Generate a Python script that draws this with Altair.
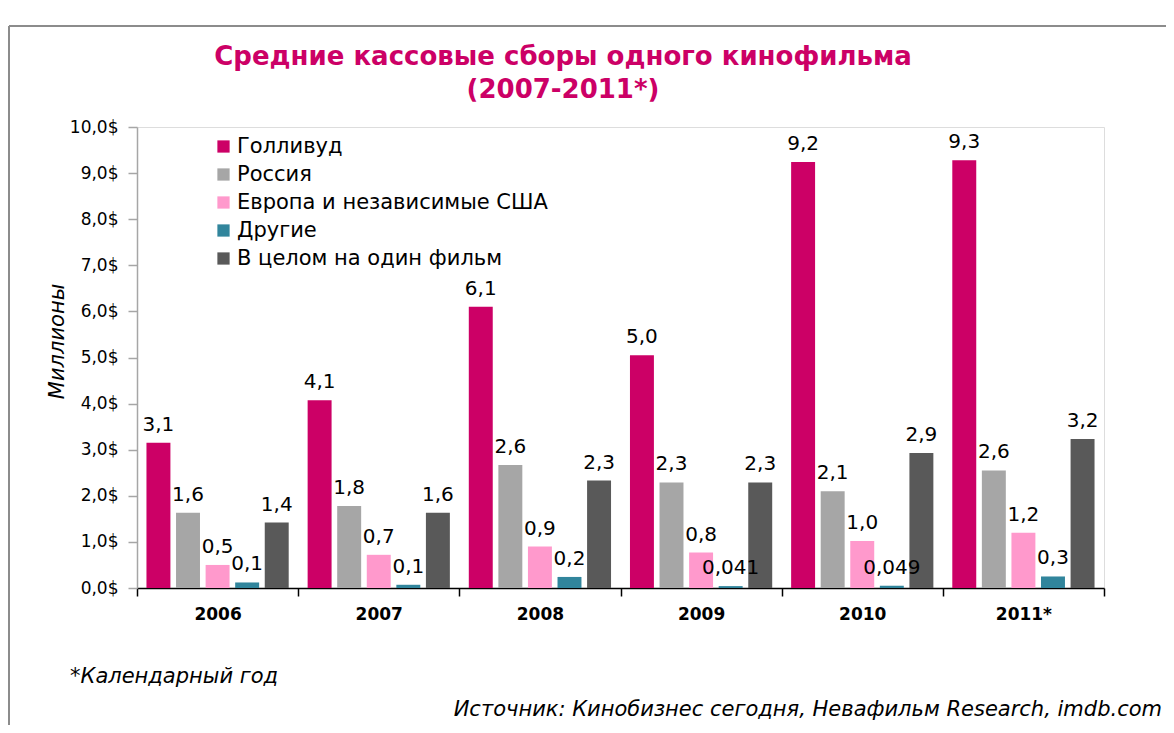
import altair as alt
import pandas as pd

years = ["2006", "2007", "2008", "2009", "2010", "2011*"]
series = ["Голливуд", "Россия", "Европа и независимые США", "Другие", "В целом на один фильм"]
colors = ["#CC0066", "#A6A6A6", "#FF99CC", "#31859C", "#595959"]

hollywood = [3.15, 4.07, 6.10, 5.05, 9.24, 9.28]
russia = [1.63, 1.78, 2.67, 2.29, 2.10, 2.55]
europe = [0.50, 0.72, 0.90, 0.77, 1.02, 1.20]
others = [0.12, 0.07, 0.24, 0.041, 0.049, 0.25]
total = [1.42, 1.63, 2.33, 2.29, 2.93, 3.23]

hollywood_lbl = ["3,1", "4,1", "6,1", "5,0", "9,2", "9,3"]
russia_lbl = ["1,6", "1,8", "2,6", "2,3", "2,1", "2,6"]
europe_lbl = ["0,5", "0,7", "0,9", "0,8", "1,0", "1,2"]
others_lbl = ["0,1", "0,1", "0,2", "0,041", "0,049", "0,3"]
total_lbl = ["1,4", "1,6", "2,3", "2,3", "2,9", "3,2"]

title_lines = ["Средние кассовые сборы одного кинофильма", "(2007-2011*)"]
footnote = "*Календарный год"
source = "Источник: Кинобизнес сегодня, Невафильм Research, imdb.com"

rows = []
for s, vals, lbls in zip(series,
                         [hollywood, russia, europe, others, total],
                         [hollywood_lbl, russia_lbl, europe_lbl, others_lbl, total_lbl]):
    for y, v, l in zip(years, vals, lbls):
        rows.append({"year": y, "series": s, "value": v, "label": l})
df = pd.DataFrame(rows)

FONT = "DejaVu Sans"

x = alt.X("year:N", sort=years, title=None,
          scale=alt.Scale(paddingInner=0, paddingOuter=0),
          axis=alt.Axis(labelAngle=0, labelFontWeight="bold", labelFontSize=17,
                        labelFont=FONT, labelColor="#000000", domainColor="#000000",
                        domainWidth=1.5, tickColor="#000000", tickSize=8, tickWidth=1.5,
                        tickBand="extent", labelPadding=10, grid=False))
xo = alt.XOffset("series:N", sort=series,
                 scale=alt.Scale(paddingInner=0.19, paddingOuter=0.32))

bars = alt.Chart(df).mark_bar().encode(
    x=x,
    xOffset=xo,
    y=alt.Y("value:Q", title="Миллионы",
            scale=alt.Scale(domain=[0, 10], nice=False),
            axis=alt.Axis(values=list(range(0, 11)), grid=False,
                          labelExpr="replace(format(datum.value, '.1f'), '.', ',') + '$'",
                          labelFont=FONT, labelFontSize=17, labelColor="#000000",
                          domainColor="#A6A6A6", domainWidth=1.5, tickColor="#A6A6A6",
                          tickSize=9, tickWidth=1.5,
                          labelPadding=10, titleFont=FONT, titleFontSize=21,
                          titleFontStyle="italic", titleFontWeight="normal",
                          titleColor="#000000", titlePadding=2, titleY=214)),
    color=alt.Color("series:N", sort=series,
                    scale=alt.Scale(domain=series, range=colors),
                    legend=alt.Legend(title=None, orient="none", legendX=76, legendY=9,
                                      symbolType="square", symbolSize=150,
                                      symbolStrokeWidth=0, labelFont=FONT,
                                      labelFontSize=21, labelColor="#000000",
                                      rowPadding=6, labelOffset=3, labelLimit=600)),
)

labels = alt.Chart(df).mark_text(baseline="bottom", dy=-8, font=FONT, fontSize=20,
                                 color="#000000").encode(
    x=alt.X("year:N", sort=years),
    xOffset=alt.XOffset("series:N", sort=series),
    y="value:Q",
    text="label:N",
)


def text_layer(t, x, y, align, size, style="normal", weight="normal", color="#000000"):
    return alt.Chart(pd.DataFrame({"t": [t]})).mark_text(
        align=align, baseline="middle", font=FONT, fontSize=size, fontStyle=style,
        fontWeight=weight, color=color).encode(x=alt.value(x), y=alt.value(y), text="t:N")


title1 = text_layer(title_lines[0], 426, -70, "center", 26, weight="bold", color="#CC0066")
title2 = text_layer(title_lines[1], 426, -37, "center", 26, weight="bold", color="#CC0066")
foot1 = text_layer(footnote, -67, 550, "left", 21, style="italic")
foot2 = text_layer(source, 1025, 583, "right", 21, style="italic")

frame_top = alt.Chart(pd.DataFrame({"k": [0]})).mark_rule(color="#8C8C8C", strokeWidth=2).encode(
    x=alt.value(-128), x2=alt.value(1040), y=alt.value(-101))
frame_left = alt.Chart(pd.DataFrame({"k": [0]})).mark_rule(color="#8C8C8C", strokeWidth=2).encode(
    x=alt.value(-128), y=alt.value(-101), y2=alt.value(610))

chart = alt.layer(frame_top, frame_left, bars, labels, title1, title2, foot1, foot2).resolve_scale(
    x="shared", xOffset="shared"
).properties(
    width=967, height=461,
    autosize=alt.AutoSizeParams(type="none"),
    padding={"left": 129, "top": 119, "right": 62, "bottom": 137},
).configure_view(strokeWidth=0).configure(background="#ffffff")

chart.save("out.html", embed_options={"renderer": "svg", "actions": False})
